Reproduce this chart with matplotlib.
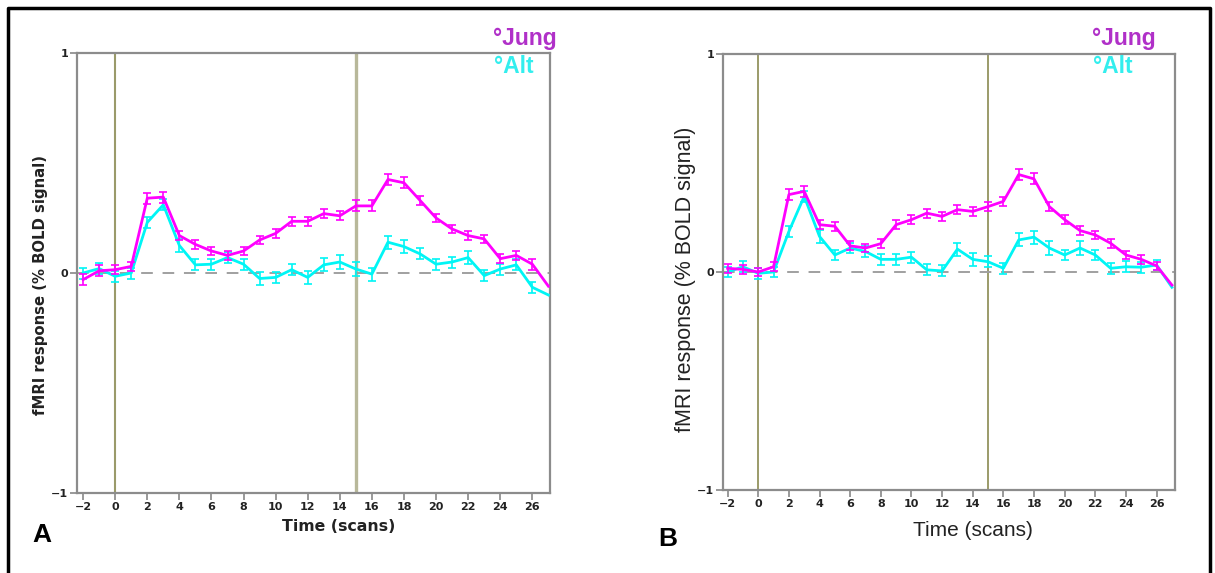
import numpy as np
import matplotlib.pyplot as plt
from matplotlib.lines import Line2D

# time axis in scans (last point sits at the right edge of the box)
time = list(range(-2, 28))

# panel A
jung_a = [-0.03, 0.01, 0.015, 0.03, 0.34, 0.345, 0.17, 0.13, 0.10, 0.08,
          0.10, 0.15, 0.18, 0.235, 0.235, 0.27, 0.26, 0.305, 0.305, 0.425,
          0.41, 0.33, 0.25, 0.20, 0.17, 0.155, 0.065, 0.08, 0.04, -0.06]
alt_a = [0.0, 0.02, -0.015, 0.0, 0.23, 0.31, 0.125, 0.037, 0.04, 0.07,
         0.04, -0.025, -0.02, 0.015, -0.02, 0.037, 0.05, 0.018, -0.005, 0.14,
         0.12, 0.087, 0.04, 0.05, 0.07, -0.012, 0.018, 0.037, -0.065, -0.10]
jung_a_err = [0.025, 0.025, 0.02, 0.02, 0.025, 0.025, 0.02, 0.02, 0.02, 0.02,
              0.02, 0.02, 0.02, 0.02, 0.02, 0.02, 0.02, 0.025, 0.025, 0.025,
              0.025, 0.02, 0.02, 0.02, 0.02, 0.02, 0.02, 0.02, 0.025, 0.0]
alt_a_err = [0.025, 0.025, 0.025, 0.025, 0.025, 0.025, 0.03, 0.025, 0.025, 0.025,
             0.025, 0.03, 0.025, 0.025, 0.03, 0.03, 0.03, 0.03, 0.03, 0.03,
             0.03, 0.025, 0.025, 0.025, 0.03, 0.025, 0.025, 0.025, 0.025, 0.0]

# panel B
jung_b = [0.017, 0.012, 0.0, 0.024, 0.355, 0.37, 0.217, 0.21, 0.12, 0.11,
          0.13, 0.217, 0.24, 0.27, 0.255, 0.286, 0.278, 0.30, 0.324, 0.447,
          0.427, 0.30, 0.24, 0.19, 0.17, 0.132, 0.078, 0.058, 0.028, -0.06]
alt_b = [0.0, 0.024, -0.006, 0.0, 0.186, 0.347, 0.163, 0.078, 0.11, 0.094,
         0.058, 0.058, 0.068, 0.01, 0.005, 0.105, 0.058, 0.047, 0.017, 0.147,
         0.16, 0.11, 0.078, 0.11, 0.078, 0.017, 0.024, 0.022, 0.032, -0.07]
jung_b_err = [0.02, 0.02, 0.02, 0.02, 0.025, 0.025, 0.02, 0.02, 0.02, 0.02,
              0.02, 0.02, 0.02, 0.02, 0.02, 0.02, 0.02, 0.02, 0.02, 0.025,
              0.025, 0.02, 0.02, 0.02, 0.02, 0.02, 0.02, 0.02, 0.02, 0.0]
alt_b_err = [0.025, 0.025, 0.025, 0.025, 0.025, 0.025, 0.03, 0.025, 0.025, 0.025,
             0.025, 0.025, 0.025, 0.025, 0.025, 0.03, 0.03, 0.025, 0.025, 0.03,
             0.03, 0.03, 0.025, 0.03, 0.025, 0.025, 0.025, 0.025, 0.025, 0.0]

xticks = list(range(-2, 27, 2))
yticks = [-1, 0, 1]
onsets = [0, 15]

MAGENTA = '#ff00ff'
CYAN = '#00f5f5'


def plot_panel(ax, jung, alt, jung_err, alt_err, xlim, vline_style):
    # block onsets
    for t, (c, w) in zip(onsets, vline_style):
        ax.axvline(t, color=c, lw=w, zorder=1)
    # baseline
    ax.axhline(0, color='#a0a0a0', lw=1.4, ls=(0, (6, 5)), zorder=1)
    # group curves with error bars (last point only continues the line)
    for y, e, col in [(alt, alt_err, CYAN), (jung, jung_err, MAGENTA)]:
        ax.plot(time, y, color=col, lw=2.0, zorder=3)
        ax.errorbar(time[:-1], y[:-1], yerr=e[:-1], fmt='none', ecolor=col,
                    elinewidth=1.2, capsize=2.8, capthick=1.2, zorder=3)
    ax.set_xlim(xlim)
    ax.set_ylim(-1, 1)
    ax.set_xticks(xticks)
    ax.set_yticks(yticks)
    ax.set_yticklabels(['\u22121', '0', '1'])
    ax.tick_params(axis='both', colors='#888888', labelcolor='#222222',
                   length=5, width=1.2, direction='out', pad=1.5)
    for lab in ax.get_xticklabels() + ax.get_yticklabels():
        lab.set_fontweight('bold')
        lab.set_fontsize(8)
    for s in ax.spines.values():
        s.set_color('#8c8c8c')
        s.set_linewidth(1.6)


fig = plt.figure(figsize=(12.15, 5.73), dpi=100)

axA = fig.add_axes([77 / 1215, 1 - 493 / 573, 473 / 1215, 440 / 573])
plot_panel(axA, jung_a, alt_a, jung_a_err, alt_a_err, (-2.38, 27.1),
           [('#9a9a6a', 1.5), ('#b8b89a', 2.4)])
axA.set_xlabel('Time (scans)', fontsize=11.3, fontweight='bold', color='#222222')
axA.xaxis.set_label_coords((339 - 77) / 473, -0.058)
axA.set_ylabel('fMRI response (% BOLD signal)', fontsize=10.7, fontweight='bold',
               color='#222222')
axA.yaxis.set_label_coords(-0.062, (493 - 285) / 440)

axB = fig.add_axes([723 / 1215, 1 - 490 / 573, 452 / 1215, 436 / 573])
plot_panel(axB, jung_b, alt_b, jung_b_err, alt_b_err, (-2.3, 27.2),
           [('#8a8a50', 1.2), ('#8a8a50', 1.2)])
axB.set_xlabel('Time (scans)', fontsize=15, family='Liberation Sans',
               color='#222222')
axB.xaxis.set_label_coords((973 - 723) / 452, -0.072)
axB.set_ylabel('fMRI response (% BOLD signal)', fontsize=15.5,
               family='Liberation Sans', color='#222222')
axB.yaxis.set_label_coords(-0.06, (490 - 279) / 436)

# group labels above each panel
for x0 in [493, 1092]:
    fig.text(x0 / 1215, 1 - 45 / 573, '\u00b0Jung', color='#b030c8', fontsize=16.5,
             fontweight='bold', family='Liberation Sans', va='baseline')
    fig.text((x0 + 1) / 1215, 1 - 73 / 573, '\u00b0Alt', color='#33eeee',
             fontsize=16.5, fontweight='bold', family='Liberation Sans',
             va='baseline', zorder=5)

# panel letters
fig.text(32 / 1215, 1 - 542 / 573, 'A', fontsize=19, fontweight='bold',
         family='Liberation Sans', va='baseline')
fig.text(658 / 1215, 1 - 546 / 573, 'B', fontsize=19, fontweight='bold',
         family='Liberation Sans', va='baseline')

# outer frame
fig.add_artist(Line2D([8 / 1215, 8 / 1215, 1210 / 1215, 1210 / 1215],
                      [0, 1 - 8 / 573, 1 - 8 / 573, 0],
                      color='black', lw=2.5))

fig.savefig('out.png', dpi=100)
